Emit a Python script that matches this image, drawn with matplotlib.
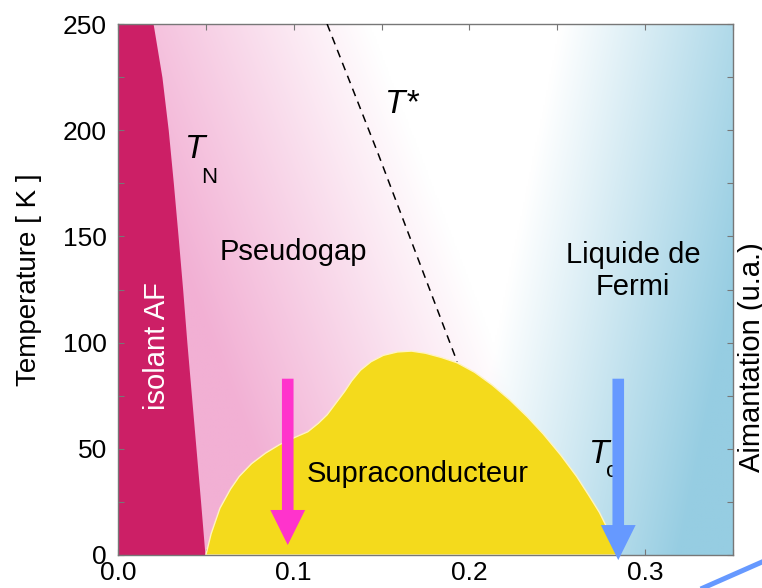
import numpy as np
import matplotlib
matplotlib.use("Agg")
import matplotlib.pyplot as plt
from matplotlib.patches import FancyArrow
from matplotlib.lines import Line2D
from matplotlib.ticker import MultipleLocator

plt.rcParams["font.family"] = ["Liberation Sans", "DejaVu Sans"]

# Neel line T_N (doping, K)
tn_temp = [0, 25, 50, 75, 100, 125, 150, 175, 200, 225, 250]
tn_dop = [0.0495, 0.0470, 0.0444, 0.0418, 0.0392, 0.0368, 0.0342, 0.0315, 0.0286, 0.0250, 0.0200]

# superconducting dome T_c
dome_dop = [0.050, 0.053, 0.058, 0.064, 0.069, 0.076, 0.084, 0.092, 0.101, 0.108,
            0.114, 0.119, 0.124, 0.129, 0.133, 0.138, 0.144, 0.151, 0.159, 0.167,
            0.175, 0.184, 0.193, 0.203, 0.213, 0.223, 0.233, 0.242, 0.252, 0.261,
            0.268, 0.274, 0.280, 0.284]
dome_temp = [0, 10, 22, 31, 37, 43, 48, 52, 55.5, 58,
             62, 66, 71.5, 77, 82, 87, 91, 94, 95.6, 96,
             95, 93, 90.5, 86, 80, 73, 65, 57, 47, 37,
             28, 20, 10, 0]

# pseudogap crossover T*
tstar_dop = [0.119, 0.148, 0.193]
tstar_temp = [250, 189, 91]

# vertical arrows (doping, top, tip)
arrow_dop = [0.0966, 0.2847]
arrow_top = [83, 83]
arrow_tip = [4.7, -2.4]
arrow_colors = ["#FF33CC", "#6699FF"]

fig = plt.figure(figsize=(7.62, 5.88), dpi=100)
ax = fig.add_axes([118 / 762, 1 - 555 / 588, 615 / 762, 531 / 588])

# background shading: pink pseudogap side, blue Fermi liquid side
xs = np.linspace(0, 0.35, 400)
ts = np.linspace(0, 250, 300)
X, T = np.meshgrid(xs, ts)
wp = np.clip((0.26 - (X + T / 2137)) / 0.16, 0, 1)
wb = np.clip((X - 0.19 - T / 4000) / 0.13, 0, 1)
pink = np.array([242, 176, 212]) / 255
blue = np.array([150, 205, 226]) / 255
img = 1 - wp[..., None] * (1 - pink) - wb[..., None] * (1 - blue)
ax.imshow(np.clip(img, 0, 1), extent=[0, 0.35, 0, 250], origin="lower",
          aspect="auto", interpolation="bilinear", zorder=0)

ax.fill_betweenx(tn_temp, 0, tn_dop, color="#CC1F66", lw=0, zorder=1)
ax.fill(dome_dop, dome_temp, facecolor="#F4DA1C", edgecolor="#FFF4C0", lw=1, zorder=2)
ax.plot(tstar_dop, tstar_temp, color="k", lw=1.1, ls=(0, (5.2, 3.9)), zorder=3)

# labels
ax.text(0.0266, 68.3, "isolant AF", color="white", fontsize=21, rotation=90,
        rotation_mode="anchor", ha="left", va="baseline", zorder=4)
ax.text(0.0576, 138.9, "Pseudogap", fontsize=21, ha="left", va="baseline", zorder=4)
ax.text(0.1073, 34.4, "Supraconducteur", fontsize=21, ha="left", va="baseline", zorder=4)
ax.text(0.2932, 137.5, "Liquide de", fontsize=21, ha="center", va="baseline", zorder=4)
ax.text(0.2932, 122.4, "Fermi", fontsize=21, ha="center", va="baseline", zorder=4)

ax.text(0.152, 208, "T*", fontsize=24, style="italic", ha="left", va="baseline", zorder=4)
ax.text(0.0379, 187, "T", fontsize=24, style="italic", ha="left", va="baseline", zorder=4)
ax.text(0.0475, 175, "N", fontsize=16, ha="left", va="baseline", zorder=4)
ax.text(0.268, 43.3, "T", fontsize=24, style="italic", ha="left", va="baseline", zorder=4)
ax.text(0.278, 36.7, "c", fontsize=16, ha="left", va="baseline", zorder=4)

for xa, top, tip, col in zip(arrow_dop, arrow_top, arrow_tip, arrow_colors):
    arr = FancyArrow(xa, top, 0, tip - top, width=0.0066, head_width=0.0198,
                     head_length=16.5, length_includes_head=True,
                     color=col, lw=0, zorder=5, clip_on=False)
    ax.add_patch(arr)

ax.set_xlim(0, 0.35)
ax.set_ylim(0, 250)
ax.xaxis.set_major_locator(MultipleLocator(0.1))
ax.xaxis.set_minor_locator(MultipleLocator(0.05))
ax.yaxis.set_major_locator(MultipleLocator(50))
ax.yaxis.set_minor_locator(MultipleLocator(25))
ax.tick_params(which="both", direction="in", top=True, right=True, length=4,
               width=0.8, color="#777777", labelsize=19)
ax.tick_params(axis="x", pad=4)
ax.tick_params(axis="y", pad=8)
for s in ax.spines.values():
    s.set_color("#777777")
    s.set_linewidth(1)

ax.set_ylabel("Temperature [ K ]", fontsize=20)
ax.yaxis.set_label_coords(-0.1236, 0.518)

fig.text(760 / 762, 1 - 357 / 588, "Aimantation (u.a.)", fontsize=21, rotation=90,
         rotation_mode="anchor", ha="center", va="baseline")

# edge of the magnetisation curve running off the corner
fig.add_artist(Line2D([703 / 762, 1.0], [0, 26 / 588], color="#6699FF", lw=3.6))

fig.savefig("out.png", dpi=100)
